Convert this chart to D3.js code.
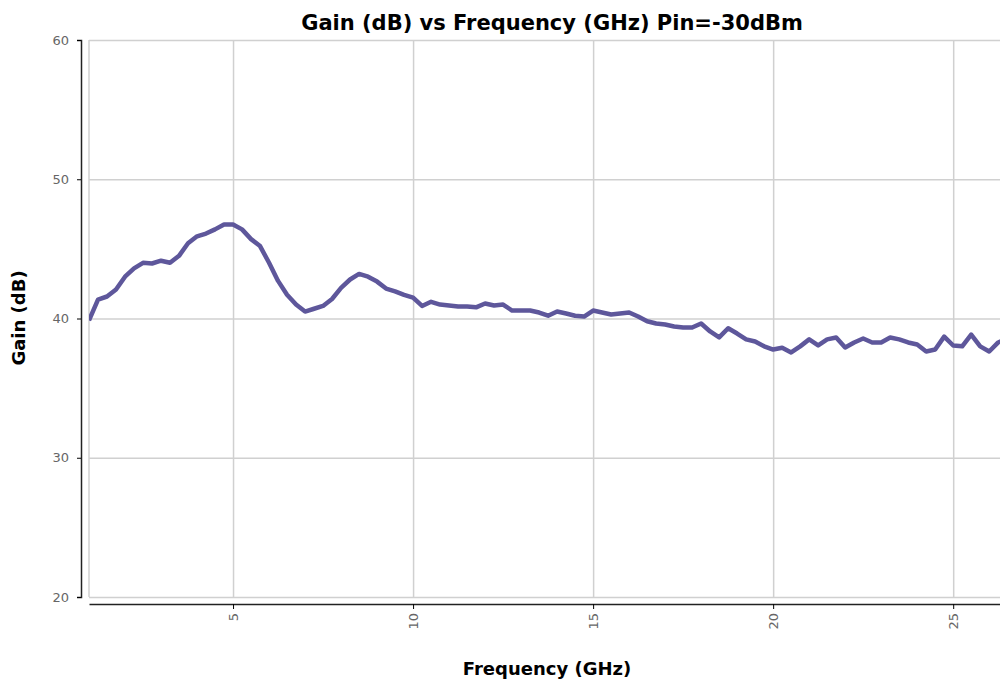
<!DOCTYPE html>
<html>
<head>
<meta charset="utf-8">
<script src="https://cdn.jsdelivr.net/npm/d3@7"></script>
<style>
  body { margin: 0; background: #fff; font-family: "DejaVu Sans", Verdana, sans-serif; }
  .grid line { stroke: #d0d0d0; stroke-width: 1.5; }
  .grid path { display: none; }
</style>
</head>
<body>
<script>
'use strict';

var freq = [1.0, 1.25, 1.5, 1.75, 2.0, 2.25, 2.5, 2.75, 3.0, 3.25, 3.5, 3.75, 4.0, 4.25, 4.5, 4.75,
  5.0, 5.25, 5.5, 5.75, 6.0, 6.25, 6.5, 6.75, 7.0, 7.25, 7.5, 7.75, 8.0, 8.25, 8.5, 8.75,
  9.0, 9.25, 9.5, 9.75, 10.0, 10.25, 10.5, 10.75, 11.0, 11.25, 11.5, 11.75, 12.0, 12.25, 12.5, 12.75,
  13.0, 13.25, 13.5, 13.75, 14.0, 14.25, 14.5, 14.75, 15.0, 15.25, 15.5, 15.75, 16.0, 16.25, 16.5, 16.75,
  17.0, 17.25, 17.5, 17.75, 18.0, 18.25, 18.5, 18.75, 19.0, 19.25, 19.5, 19.75, 20.0, 20.25, 20.5, 20.75,
  21.0, 21.25, 21.5, 21.75, 22.0, 22.25, 22.5, 22.75, 23.0, 23.25, 23.5, 23.75, 24.0, 24.25, 24.5, 24.75,
  25.0, 25.25, 25.5, 25.75, 26.0, 26.25, 26.5];

var gain = [39.86, 41.36, 41.58, 42.08, 43.0, 43.6, 44.0, 43.95, 44.15, 44.0, 44.5, 45.4, 45.9, 46.1, 46.4, 46.75,
  46.75, 46.4, 45.7, 45.2, 44.0, 42.7, 41.7, 41.0, 40.5, 40.7, 40.9, 41.4, 42.2, 42.8, 43.2, 43.0,
  42.65, 42.15, 41.95, 41.7, 41.5, 40.9, 41.2, 41.0, 40.93, 40.86, 40.86, 40.8, 41.08, 40.93, 41.0, 40.57,
  40.57, 40.57, 40.43, 40.2, 40.5, 40.36, 40.2, 40.14, 40.57, 40.43, 40.29, 40.36, 40.43, 40.14, 39.8, 39.64,
  39.57, 39.43, 39.35, 39.35, 39.64, 39.07, 38.64, 39.3, 38.92, 38.5, 38.35, 38.0, 37.77, 37.9, 37.56, 38.0,
  38.5, 38.07, 38.5, 38.64, 37.92, 38.28, 38.56, 38.28, 38.28, 38.64, 38.5, 38.28, 38.13, 37.63, 37.77, 38.7,
  38.06, 38.0, 38.85, 38.0, 37.63, 38.28, 38.56];

var xTicks = [5, 10, 15, 20, 25];
var yTicks = [20, 30, 40, 50, 60];

var title = 'Gain (dB) vs Frequency (GHz) Pin=-30dBm';
var xLabel = 'Frequency (GHz)';
var yLabel = 'Gain (dB)';

build();

function build() {
  var width = 1000,
    height = 682,
    left = 89,
    right = 1000,
    top = 40,
    bottom = 597;

  var svg = d3.select('body').append('svg')
    .attr('width', width)
    .attr('height', height);

  var x = d3.scaleLinear().domain([1, 26.3]).range([left, right]);
  var y = d3.scaleLinear().domain([20, 60]).range([bottom, top]);

  // grid
  svg.append('g').attr('class', 'grid')
    .attr('transform', 'translate(0,' + bottom + ')')
    .call(d3.axisBottom(x).tickValues(xTicks).tickSize(-(bottom - top)).tickFormat(''));
  svg.append('g').attr('class', 'grid')
    .attr('transform', 'translate(' + left + ',0)')
    .call(d3.axisLeft(y).tickValues(yTicks).tickSize(-(right - left)).tickFormat(''));
  svg.append('line')
    .attr('x1', left).attr('x2', left).attr('y1', top).attr('y2', bottom)
    .attr('stroke', '#d0d0d0').attr('stroke-width', 1.5);

  // axes
  var yAxis = svg.append('g')
    .attr('transform', 'translate(' + (left - 8) + ',0)')
    .call(d3.axisLeft(y).tickValues(yTicks).tickSize(4).tickSizeOuter(4));
  yAxis.select('.domain').attr('stroke', '#222').attr('stroke-width', 1.5);
  yAxis.selectAll('.tick text')
    .attr('font-family', '"DejaVu Sans", Verdana, sans-serif')
    .attr('font-size', 13)
    .attr('fill', '#666')
    .attr('x', -12);

  var xAxis = svg.append('g')
    .attr('transform', 'translate(0,' + (bottom + 7) + ')')
    .call(d3.axisBottom(x).tickValues(xTicks).tickSize(5).tickSizeOuter(0));
  xAxis.select('.domain').attr('stroke', '#222').attr('stroke-width', 1.5);
  xAxis.selectAll('.tick text')
    .attr('font-family', '"DejaVu Sans", Verdana, sans-serif')
    .attr('font-size', 13)
    .attr('fill', '#666')
    .attr('transform', 'rotate(-90)')
    .attr('text-anchor', 'end')
    .attr('x', -9)
    .attr('y', 0)
    .attr('dy', '0.32em');

  // line
  svg.append('clipPath').attr('id', 'clip')
    .append('rect').attr('x', left).attr('y', 0).attr('width', right - left).attr('height', height);

  var line = d3.line()
    .x(function(d, i) { return x(freq[i]); })
    .y(function(d) { return y(d); });

  svg.append('path')
    .datum(gain)
    .attr('clip-path', 'url(#clip)')
    .attr('fill', 'none')
    .attr('stroke', '#5e579b')
    .attr('stroke-width', 4.5)
    .attr('stroke-linejoin', 'round')
    .attr('d', line);

  // labels
  svg.append('text')
    .attr('x', 552).attr('y', 30)
    .attr('text-anchor', 'middle')
    .attr('font-size', 21).attr('font-weight', 'bold')
    .text(title);

  svg.append('text')
    .attr('x', 547).attr('y', 675)
    .attr('text-anchor', 'middle')
    .attr('font-size', 18).attr('font-weight', 'bold')
    .text(xLabel);

  svg.append('text')
    .attr('transform', 'translate(25,318) rotate(-90)')
    .attr('text-anchor', 'middle')
    .attr('font-size', 18).attr('font-weight', 'bold')
    .text(yLabel);
}
</script>
</body>
</html>
